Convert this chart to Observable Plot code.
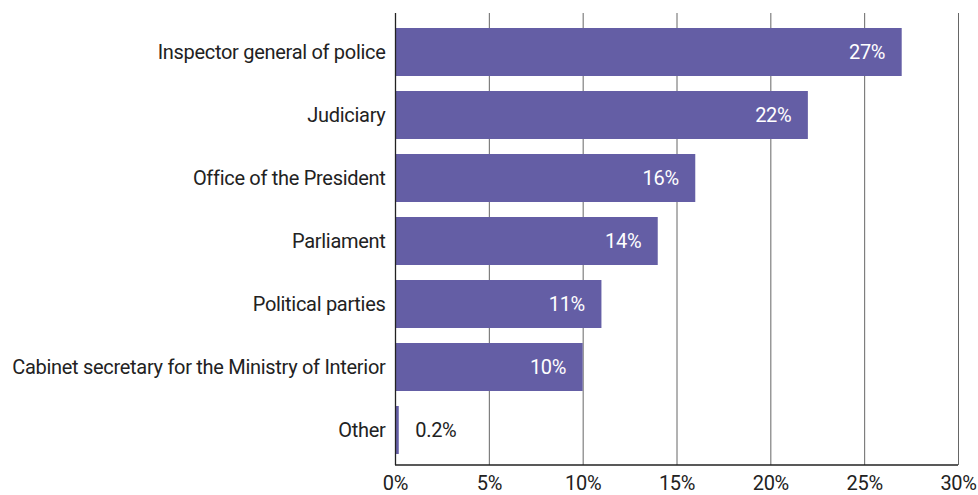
<!DOCTYPE html>
<html>
<head>
<meta charset="utf-8">
<script src="https://cdn.jsdelivr.net/npm/d3@7"></script>
<script src="https://cdn.jsdelivr.net/npm/@observablehq/plot@0.6"></script>
<style>
  body { margin: 0; background: #fff; }
  svg { font-family: Roboto, "Liberation Sans", sans-serif; }
  svg text { letter-spacing: -0.3px; }
</style>
</head>
<body>
<div id="chart"></div>
<script>
const categories = [
  "Inspector general of police",
  "Judiciary",
  "Office of the President",
  "Parliament",
  "Political parties",
  "Cabinet secretary for the Ministry of Interior",
  "Other"
];
const values = [27, 22, 16, 14, 11, 10, 0.2];
const labels = ["27%", "22%", "16%", "14%", "11%", "10%", "0.2%"];
const xTicks = [0, 5, 10, 15, 20, 25, 30];

const data = categories.map((c, i) => ({category: c, value: values[i], label: labels[i]}));
const inside = data.filter(d => d.value >= 5);
const outside = data.filter(d => d.value < 5);

const chart = Plot.plot({
  width: 978,
  height: 495,
  marginLeft: 395,
  marginRight: 20,
  marginTop: 13,
  marginBottom: 30,
  style: {fontSize: "20px", fontFamily: "Roboto, sans-serif", color: "#222", overflow: "visible"},
  x: {domain: [0, 30], ticks: xTicks, tickFormat: d => d + "%", tickSize: 0, tickPadding: 10, label: null},
  y: {domain: categories, range: [28, 457], paddingInner: 0.235, paddingOuter: 0, align: 0, tickSize: 0, tickPadding: 10, label: null},
  marks: [
    Plot.ruleX(xTicks.filter(t => t > 0), {stroke: "#666", strokeWidth: 1, strokeOpacity: 1}),
    Plot.barX(data, {x: "value", y: "category", fill: "#645ea5"}),
    Plot.ruleX([0], {stroke: "#222", strokeWidth: 1.3}),
    Plot.text(inside, {x: "value", y: "category", text: "label", textAnchor: "end", dx: -17, fill: "#fff", fontSize: 20}),
    Plot.text(outside, {x: "value", y: "category", text: "label", textAnchor: "start", dx: 16, fill: "#222", fontSize: 20})
  ]
});

// bottom axis line
const svg = d3.select(chart);
svg.append("line")
  .attr("x1", 395).attr("x2", 958)
  .attr("y1", 465).attr("y2", 465)
  .attr("stroke", "#222").attr("stroke-width", 1.3);

document.getElementById("chart").appendChild(chart);
</script>
</body>
</html>
